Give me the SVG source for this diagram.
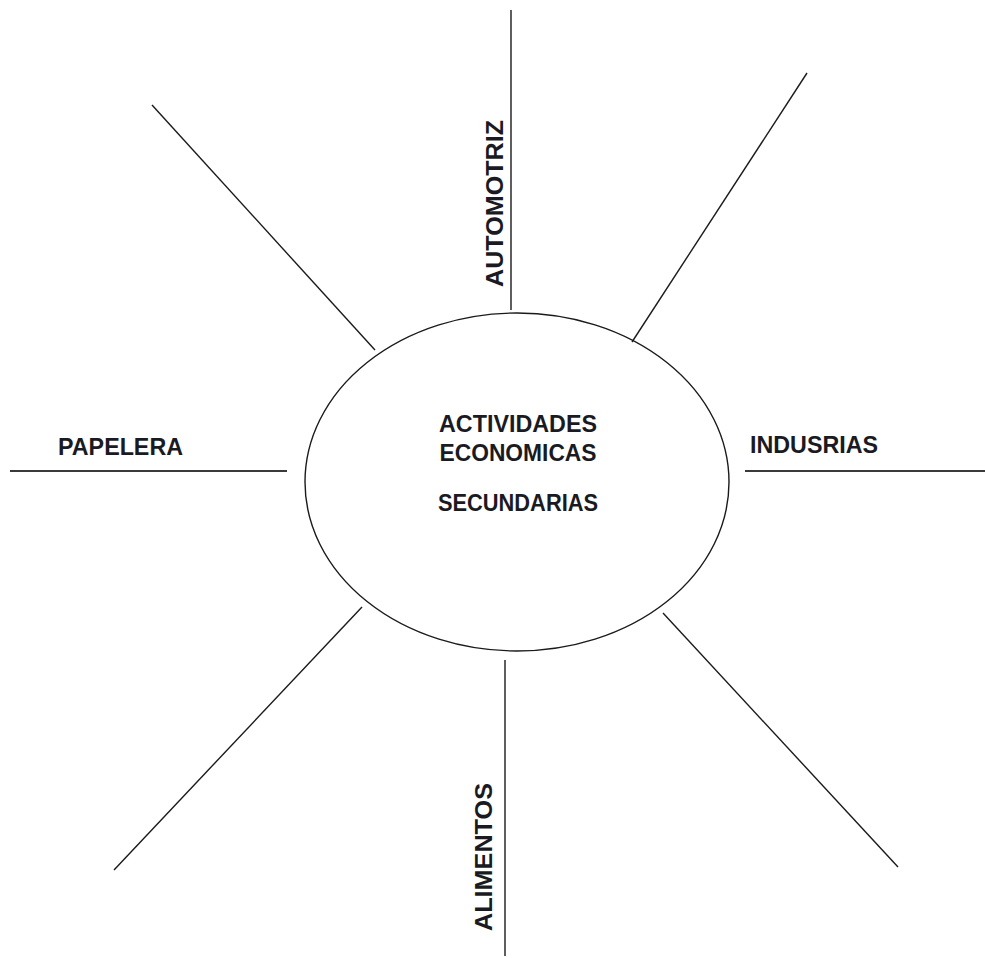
<svg xmlns="http://www.w3.org/2000/svg" width="985" height="958" viewBox="0 0 985 958">
<style>
.ln{stroke:#1a1a1a;stroke-width:1.4;fill:none}
.hl{stroke:#3a3a3a;stroke-width:2;fill:none}
.t{font-family:"Liberation Sans",Arial,sans-serif;font-weight:bold;font-size:24px;fill:#1a1a22}
</style>
<rect width="985" height="958" fill="#ffffff"/>
<g id="center">
<ellipse cx="517" cy="482" rx="212" ry="169" class="ln"/>
<text class="t" x="518" y="432" text-anchor="middle" textLength="158" lengthAdjust="spacingAndGlyphs">ACTIVIDADES</text>
<text class="t" x="518" y="461" text-anchor="middle" textLength="157" lengthAdjust="spacingAndGlyphs">ECONOMICAS</text>
<text class="t" x="518" y="511" text-anchor="middle" textLength="160" lengthAdjust="spacingAndGlyphs">SECUNDARIAS</text>
</g>
<g id="connectors">
<line class="ln" x1="511" y1="10" x2="511" y2="310"/>
<line class="ln" x1="505" y1="660" x2="505" y2="956"/>
<line class="hl" x1="10" y1="471" x2="287" y2="471"/>
<line class="hl" x1="745" y1="471" x2="985" y2="471"/>
<line class="ln" x1="807" y1="73" x2="632" y2="342"/>
<line class="ln" x1="152" y1="105" x2="375" y2="350"/>
<line class="ln" x1="362" y1="607" x2="114" y2="870"/>
<line class="ln" x1="663" y1="613" x2="898" y2="867"/>
</g>
<g id="automotriz">
<text class="t" transform="translate(503,287) rotate(-90)" textLength="167" lengthAdjust="spacingAndGlyphs">AUTOMOTRIZ</text>
</g>
<g id="alimentos">
<text class="t" transform="translate(492,931) rotate(-90)" textLength="148" lengthAdjust="spacingAndGlyphs">ALIMENTOS</text>
</g>
<g id="papelera">
<text class="t" x="58" y="455" textLength="125" lengthAdjust="spacingAndGlyphs">PAPELERA</text>
</g>
<g id="indusrias">
<text class="t" x="750" y="453" textLength="128" lengthAdjust="spacingAndGlyphs">INDUSRIAS</text>
</g>
</svg>
